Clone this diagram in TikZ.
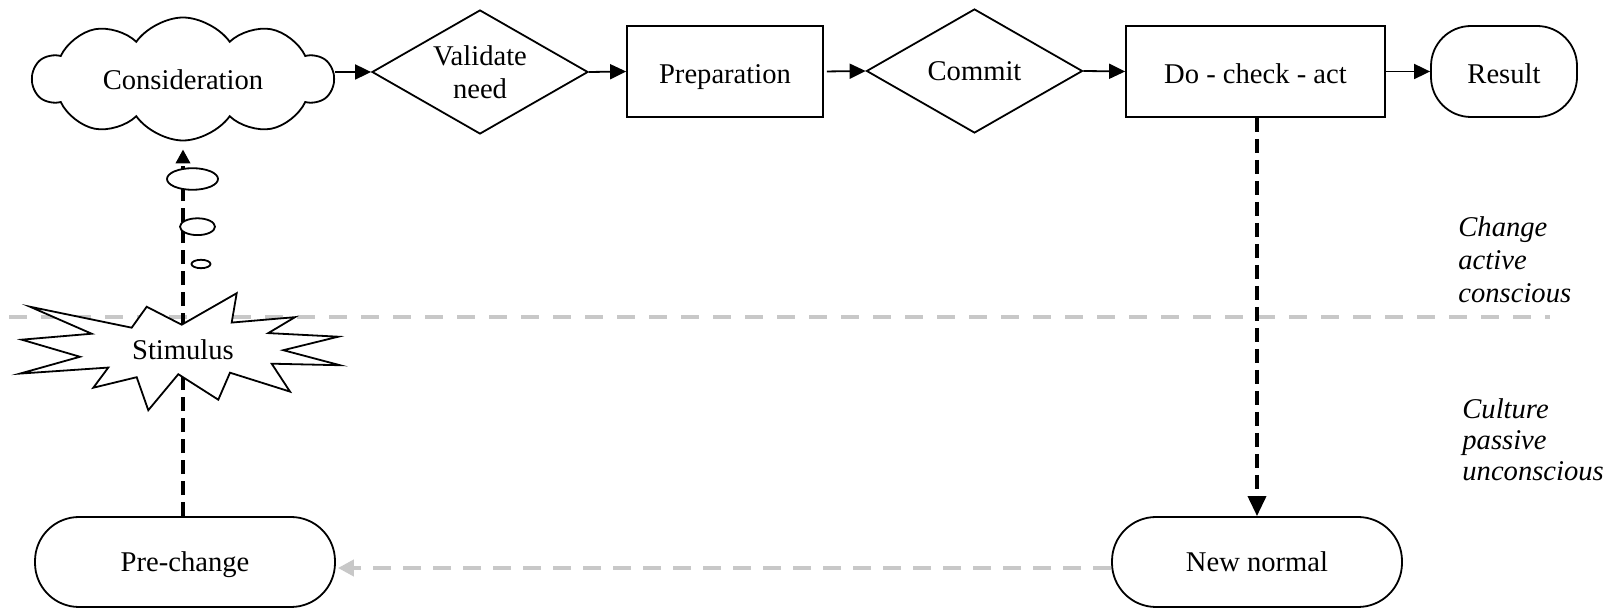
\documentclass[tikz,border=0pt]{standalone}
\usepackage{fontspec}
\setmainfont{Liberation Serif}
\usetikzlibrary{shapes.geometric,shapes.symbols,arrows.meta}
\definecolor{lgray}{RGB}{200,200,200}
\begin{document}
\begin{tikzpicture}[x=0.5pt,y=-0.5pt,
  every node/.style={font=\fontsize{14.3pt}{16pt}\selectfont},
  thin line/.style={line width=0.9pt},
  low text/.style={text height=#1, text depth=0pt},
  box/.style={draw, thin line, low text=12pt, minimum width=#1, minimum height=45.5pt, inner sep=0pt},
  dia/.style={draw, diamond, thin line, minimum width=108pt, minimum height=62pt, shape aspect=1.74, inner sep=0pt, align=center},
  term/.style={draw, thin line, rounded corners=20pt, inner sep=0pt},
  arr/.style={thin line, -{Triangle[length=8pt,width=7.5pt]}},
  bdash/.style={line width=1.8pt, dash pattern=on 7pt off 3.5pt},
  gline/.style={line width=2.4pt, lgray, dash pattern=on 9pt off 7pt},
  garrow/.style={line width=2.4pt, lgray, dash pattern=on 9pt off 6pt, -{Triangle[length=8pt,width=8pt]}},
  bubble/.style={draw, thin line, fill=white},
  side label/.style={anchor=north west, inner sep=0pt, align=left}
]
\useasboundingbox (0,0) rectangle (1612,608);

% nodes
\node[cloud, draw, thin line, low text=11pt, cloud puffs=10, cloud puff arc=110, cloud ignores aspect,
      minimum width=150pt, minimum height=61.5pt, inner sep=0pt, fill=white] (cons) at (183,79) {Consideration};
\node[dia, font=\fontsize{14.3pt}{16.5pt}\selectfont] (val) at (480,72) {Validate\\need};
\node[box=98pt] (prep) at (725,71.5) {Preparation};
\node[dia] (com) at (974.5,71) {Commit};
\node[box=129.5pt] (dca) at (1255.5,71.5) {Do - check - act};
\node[term, low text=12pt, minimum width=73pt, minimum height=45.5pt] (res) at (1504,71.5) {Result};
\node[term, low text=10pt, minimum width=150pt, minimum height=45pt, rounded corners=22pt] (pre) at (185,562) {Pre-change};
\node[term, low text=10pt, minimum width=145pt, minimum height=45pt, rounded corners=22pt] (nn) at (1257,562) {New normal};

% top flow
\draw[arr] (val.west -| cons.east) -- (val.west);
\draw[arr] (val.east) -- (prep.west);
\draw[arr, shorten <=1.5pt] (prep.east) -- (com.west);
\draw[arr] (com.east) -- (dca.west);
\draw[arr] (dca.east) -- (res.west);

% divider
\coordinate (gl) at (9,317);
\coordinate (gr) at (1550,317);
\draw[gline] (gl) -- (gr);

% loop
\draw[bdash, -{Triangle[length=7pt,width=7pt]}, shorten >=4pt] (cons.south |- pre.north) -- (cons.south);
\draw[bdash, -{Triangle[length=10pt,width=9pt]}] (nn.north |- dca.south) -- (nn.north);
\draw[garrow, shorten >=1pt] ([yshift=-3pt]nn.west) -- ([yshift=-3pt]pre.east);

% stimulus star
\begin{scope}[shift={(0,352)}, yscale=0.9, shift={(0,-352)}]
\draw[thin line, fill=white] (181.7,321.7) -- (236.7,286.7) -- (231.7,319.3) -- (295,313.3) -- (268.3,331)
  -- (338.3,335) -- (283.3,350) -- (340,366.7) -- (271.7,365) -- (290,396) -- (230,375)
  -- (218.3,405) -- (178.3,376.7) -- (148.3,416.7) -- (136.7,380) -- (93.3,391.7)
  -- (108.3,369.3) -- (20,376) -- (80,357.3) -- (21.7,338.3) -- (91.7,331.7)
  -- (30,301.7) -- (131.7,325) -- (146.7,301.7) -- cycle;
\end{scope}
\node (stim) at (183,350) {Stimulus};

% thought bubbles
\draw[bubble] (192.5,179) ellipse [x radius=12.75pt, y radius=5.4pt];
\draw[bubble] (197.5,226.7) ellipse [x radius=8.75pt, y radius=4.2pt];
\draw[bubble] (201,264) ellipse [x radius=4.75pt, y radius=2.1pt];

% side labels
\node[side label, font=\itshape\fontsize{14.3pt}{16.5pt}\selectfont] (lab1) at (1458,216) {Change\\active\\conscious};
\node[side label, font=\itshape\fontsize{14.3pt}{15.5pt}\selectfont] (lab2) at (1462,398) {Culture\\passive\\unconscious};
\end{tikzpicture}
\end{document}
